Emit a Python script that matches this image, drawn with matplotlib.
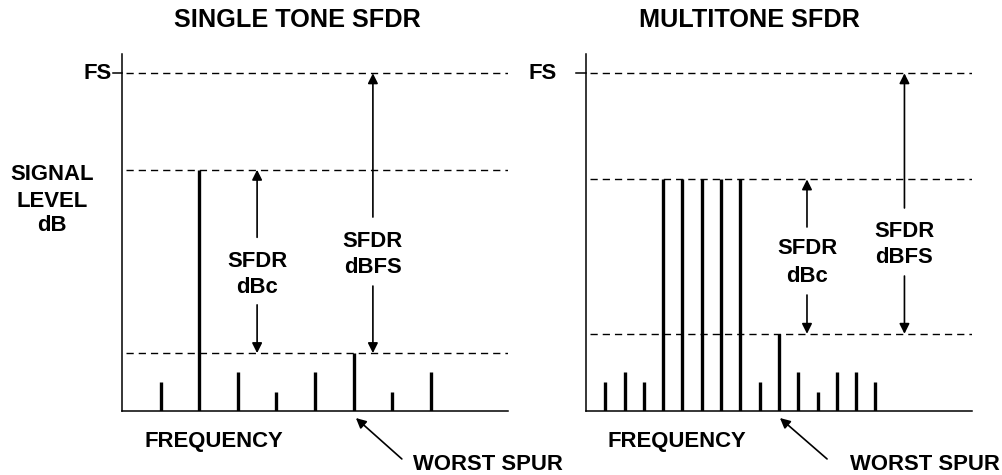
import matplotlib
matplotlib.use("Agg")
import matplotlib.pyplot as plt

plt.rcParams['font.family'] = ['Liberation Sans', 'DejaVu Sans']
plt.rcParams['font.weight'] = 'bold'

# ---- data ----
FS_LEVEL = 35
single_freq = [1, 2, 3, 4, 5, 6, 7, 8]
single_levels = [3, 25, 4, 2, 4, 6, 2, 4]
single_carrier = 25
single_worst = 6

multi_freq = list(range(1, 16))
multi_levels = [3, 4, 3, 24, 24, 24, 24, 24, 3, 8, 4, 2, 4, 4, 3]
multi_carrier = 24
multi_worst = 8

titles = ["SINGLE TONE SFDR", "MULTITONE SFDR"]

W, H = 1003, 475
fig = plt.figure(figsize=(W / 100, H / 100), dpi=100)

def fx(px):
    return px / W

def fy(py):
    return 1 - py / H

FSZ = 15.9
dash = (0, (5.2, 3.6))

def make_axes(left_px, width_px, xmax):
    ax = fig.add_axes([fx(left_px), fy(411), width_px / W, (411 - 54) / H])
    ax.set_xlim(0, xmax)
    ax.set_ylim(0, 37)
    for s in ['top', 'right']:
        ax.spines[s].set_visible(False)
    for s in ['left', 'bottom']:
        ax.spines[s].set_linewidth(1.1)
    ax.set_xticks([])
    ax.set_yticks([])
    ax.patch.set_alpha(0)
    return ax

def varrow(ax, x, y0, y1):
    ax.annotate('', xy=(x, y1), xytext=(x, y0),
                arrowprops=dict(arrowstyle='-|>', color='black', lw=1.2,
                                mutation_scale=15, shrinkA=0, shrinkB=0))

def pointer(ax, x0, y0, x1, y1):
    ax.annotate('', xy=(x1, y1), xytext=(x0, y0), annotation_clip=False,
                arrowprops=dict(arrowstyle='-|>', color='black', lw=1.2,
                                mutation_scale=15, shrinkA=0, shrinkB=0))

# ---- left panel ----
axL = make_axes(122, 386, 10)
axL.vlines(single_freq, 0, single_levels, color='black', lw=2.4)
for lvl in [FS_LEVEL, single_carrier, single_worst]:
    axL.plot([0.1, 10], [lvl, lvl], color='black', lw=1.0, linestyle=dash)
axL.plot([-0.24, 0], [FS_LEVEL, FS_LEVEL], color='black', lw=1.1, clip_on=False)
axL.text(-0.26, FS_LEVEL, "FS", ha='right', va='center', fontsize=FSZ, fontweight='bold')

varrow(axL, 3.5, 18.0, single_carrier)
varrow(axL, 3.5, 11.0, single_worst)
axL.text(3.5, 14.92, "SFDR", ha='center', va='baseline', fontsize=FSZ, fontweight='bold')
axL.text(3.5, 12.23, "dBc", ha='center', va='baseline', fontsize=FSZ, fontweight='bold')

varrow(axL, 6.5, 20.1, FS_LEVEL)
varrow(axL, 6.5, 12.95, single_worst)
axL.text(6.5, 17.0, "SFDR", ha='center', va='baseline', fontsize=FSZ, fontweight='bold')
axL.text(6.5, 14.3, "dBFS", ha='center', va='baseline', fontsize=FSZ, fontweight='bold')

pointer(axL, 7.25, -4.97, 6.06, -0.73)

# ---- right panel ----
axR = make_axes(586, 386, 20)
axR.vlines(multi_freq, 0, multi_levels, color='black', lw=2.4)
for lvl in [FS_LEVEL, multi_carrier, multi_worst]:
    axR.plot([0.2, 20], [lvl, lvl], color='black', lw=1.0, linestyle=dash)
axR.plot([-0.52, 0], [FS_LEVEL, FS_LEVEL], color='black', lw=1.1, clip_on=False)
axR.text(-1.5, FS_LEVEL, "FS", ha='right', va='center', fontsize=FSZ, fontweight='bold')

varrow(axR, 11.45, 19.07, multi_carrier)
varrow(axR, 11.45, 12.02, multi_worst)
axR.text(11.45, 16.27, "SFDR", ha='center', va='baseline', fontsize=FSZ, fontweight='bold')
axR.text(11.45, 13.37, "dBc", ha='center', va='baseline', fontsize=FSZ, fontweight='bold')

varrow(axR, 16.5, 21.04, FS_LEVEL)
varrow(axR, 16.5, 13.99, multi_worst)
axR.text(16.5, 18.03, "SFDR", ha='center', va='baseline', fontsize=FSZ, fontweight='bold')
axR.text(16.5, 15.34, "dBFS", ha='center', va='baseline', fontsize=FSZ, fontweight='bold')

pointer(axR, 12.49, -4.97, 10.05, -0.73)

# ---- figure texts ----
fig.text(fx(297), fy(27), titles[0], ha='center', va='baseline', fontsize=18.2, fontweight='bold')
fig.text(fx(749), fy(27), titles[1], ha='center', va='baseline', fontsize=18.2, fontweight='bold')

fig.text(fx(52), fy(180), "SIGNAL", ha='center', va='baseline', fontsize=FSZ, fontweight='bold')
fig.text(fx(52), fy(207), "LEVEL", ha='center', va='baseline', fontsize=FSZ, fontweight='bold')
fig.text(fx(52), fy(231), "dB", ha='center', va='baseline', fontsize=FSZ, fontweight='bold')

fig.text(fx(214), fy(447), "FREQUENCY", ha='center', va='baseline', fontsize=FSZ, fontweight='bold')
fig.text(fx(677), fy(447), "FREQUENCY", ha='center', va='baseline', fontsize=FSZ, fontweight='bold')

fig.text(fx(413), fy(470), "WORST SPUR", ha='left', va='baseline', fontsize=FSZ, fontweight='bold')
fig.text(fx(1000), fy(470), "WORST SPUR", ha='right', va='baseline', fontsize=FSZ, fontweight='bold')

fig.savefig("out.png", dpi=100)
